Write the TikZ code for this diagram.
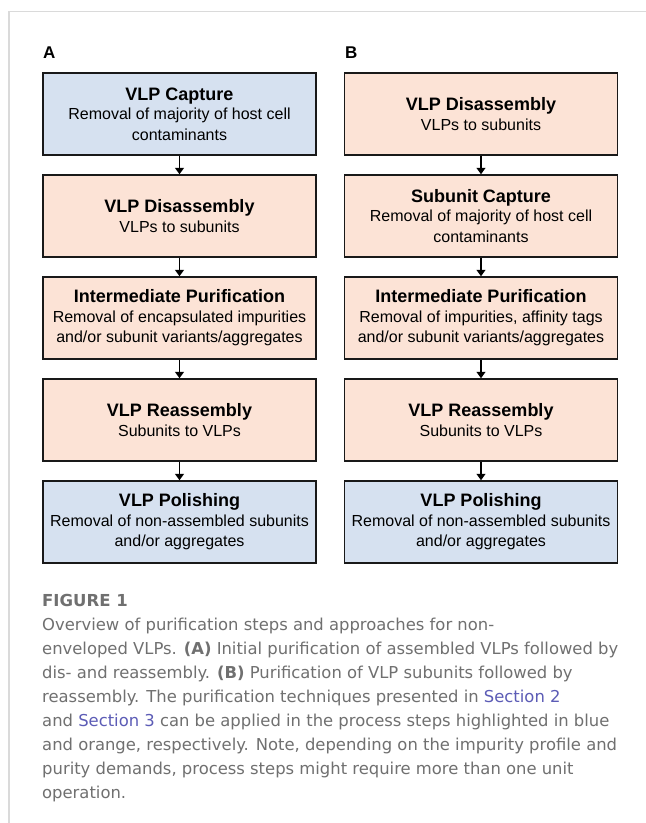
\documentclass[tikz,border=0pt]{standalone}
\usepackage{fontspec}
\setmainfont{Liberation Sans}
\newfontfamily\capfont{DejaVu Sans}
\usetikzlibrary{arrows.meta}

\definecolor{stepblue}{RGB}{214,225,240}
\definecolor{steporange}{RGB}{252,227,214}
\definecolor{framegray}{RGB}{218,218,218}
\definecolor{captext}{RGB}{112,112,112}
\definecolor{seclink}{RGB}{92,92,182}

% title line in bold, followed by the description lines
\newcommand{\steptext}[2]{{\fontsize{18}{20}\selectfont\bfseries #1}\\[-1pt]#2}
\newcommand{\sect}[1]{\textcolor{seclink}{#1}}

\begin{document}
\begin{tikzpicture}[x=1pt,y=-1pt,
  stepbox/.style={draw=black!90, line width=1.5pt, minimum width=273pt,
    minimum height=82pt, inner sep=0pt, align=center,
    font=\fontsize{16}{20.5}\selectfont},
  bluebox/.style={stepbox, fill=stepblue},
  orangebox/.style={stepbox, fill=steporange},
  flow/.style={line width=1.4pt, -{Triangle[width=9pt,length=6.5pt]}},
  panel/.style={font=\fontsize{17}{17}\selectfont\bfseries, anchor=base west, inner sep=0pt},
  capline/.style={font=\capfont\fontsize{16.4}{16.4}\selectfont, text=captext,
    anchor=base west, inner sep=0pt}]

\useasboundingbox (0,0) rectangle (646,823);
\fill[white] (0,0) rectangle (646,823);

% page frame
\coordinate (frameTR) at (646,11.7);
\coordinate (frameTL) at (9,11.7);
\coordinate (frameBL) at (9,823);
\draw[framegray, line width=1.5pt] (frameTR) -- (frameTL) -- (frameBL);

% panel letters
\node[panel] (labA) at (43,58) {A};
\node[panel] (labB) at (345,58) {B};

% panel A: capture first, then dis- and reassembly
\node[bluebox]   (a1) at (179.5,114) {\steptext{VLP Capture}{Removal of majority of host cell\\contaminants}};
\node[orangebox] (a2) at (179.5,216) {\steptext{VLP Disassembly}{VLPs to subunits}};
\node[orangebox] (a3) at (179.5,318) {\steptext{Intermediate Purification}{Removal of encapsulated impurities\\and/or subunit variants/aggregates}};
\node[orangebox] (a4) at (179.5,420) {\steptext{VLP Reassembly}{Subunits to VLPs}};
\node[bluebox]   (a5) at (179.5,522) {\steptext{VLP Polishing}{Removal of non-assembled subunits\\and/or aggregates}};

% panel B: disassembly first, subunit purification, then reassembly
\node[orangebox] (b1) at (481,114) {\steptext{VLP Disassembly}{VLPs to subunits}};
\node[orangebox] (b2) at (481,216) {\steptext{Subunit Capture}{Removal of majority of host cell\\contaminants}};
\node[orangebox] (b3) at (481,318) {\steptext{Intermediate Purification}{Removal of impurities, affinity tags\\and/or subunit variants/aggregates}};
\node[orangebox] (b4) at (481,420) {\steptext{VLP Reassembly}{Subunits to VLPs}};
\node[bluebox]   (b5) at (481,522) {\steptext{VLP Polishing}{Removal of non-assembled subunits\\and/or aggregates}};

\foreach \p in {a,b}{
  \draw[flow] (\p1.south) -- (\p2.north);
  \draw[flow] (\p2.south) -- (\p3.north);
  \draw[flow] (\p3.south) -- (\p4.north);
  \draw[flow] (\p4.south) -- (\p5.north);
}

% caption
\node[capline, font=\capfont\fontsize{16.5}{16.5}\selectfont\bfseries] (fig) at (42,606) {FIGURE 1};
\node[capline] (cap1) at (42,630.7) {Overview of purification steps and approaches for non-};
\node[capline] (cap2) at (42,654.6) {enveloped VLPs. \textbf{(A)} Initial purification of assembled VLPs followed by};
\node[capline] (cap3) at (42,678.5) {dis- and reassembly. \textbf{(B)} Purification of VLP subunits followed by};
\node[capline] (cap4) at (42,702.4) {reassembly. The purification techniques presented in \sect{Section 2}};
\node[capline] (cap5) at (42,726.3) {and \sect{Section 3} can be applied in the process steps highlighted in blue};
\node[capline] (cap6) at (42,750.2) {and orange, respectively. Note, depending on the impurity profile and};
\node[capline] (cap7) at (42,774.1) {purity demands, process steps might require more than one unit};
\node[capline] (cap8) at (42,798) {operation.};
\end{tikzpicture}
\end{document}
